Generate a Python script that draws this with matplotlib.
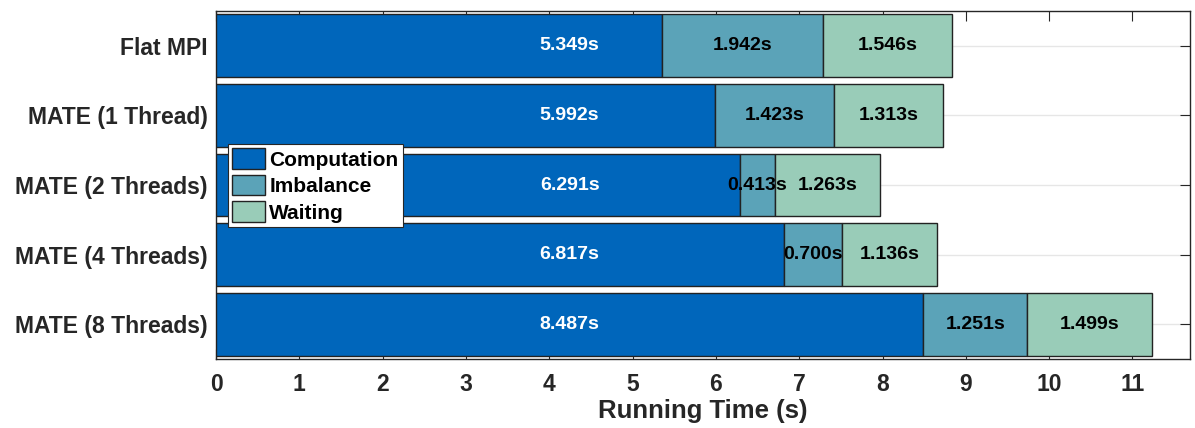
import numpy as np
import matplotlib
matplotlib.use('Agg')
import matplotlib.pyplot as plt

configs = ['Flat MPI', 'MATE (1 Thread)', 'MATE (2 Threads)', 'MATE (4 Threads)', 'MATE (8 Threads)']
computation = [5.349, 5.992, 6.291, 6.817, 8.487]
imbalance = [1.942, 1.423, 0.413, 0.700, 1.251]
waiting = [1.546, 1.313, 1.263, 1.136, 1.499]
x_ticks = list(range(0, 12))

plt.rcParams['font.family'] = ['Liberation Sans', 'DejaVu Sans']
plt.rcParams['font.weight'] = 'bold'

fig = plt.figure(figsize=(11.95, 4.28), dpi=100)
ax = fig.add_axes([0.1808, 0.1612, 0.815, 0.8131])

y = np.arange(1, len(configs) + 1)
h = 0.9
colors = ['#0066BB', '#5BA3B8', '#99CCB8']
names = ['Computation', 'Imbalance', 'Waiting']
left = np.zeros(len(configs))
for vals, col, name in zip([computation, imbalance, waiting], colors, names):
    vals = np.array(vals)
    ax.barh(y, vals, height=h, left=left, color=col, edgecolor='#222222',
            linewidth=1.0, label=name, zorder=3)
    for yi, l, v in zip(y, left, vals):
        if name == 'Computation':
            # computation labels all sit at the same x in the original
            ax.text(max(computation) / 2, yi, f'{v:.3f}s', ha='center', va='center',
                    color='white', fontsize=14, fontweight='bold', zorder=4)
        else:
            ax.text(l + v / 2, yi, f'{v:.3f}s', ha='center', va='center',
                    color='black', fontsize=14, fontweight='bold', zorder=4)
    left = left + vals

ax.set_xlim(0, 11.69)
ax.set_ylim(5.5, 0.5)
ax.set_yticks(y)
ax.set_yticklabels(configs)
ax.set_xticks(x_ticks)
ax.grid(axis='y', color='#e6e6e6', linewidth=1.0, zorder=0)
ax.set_axisbelow(True)
ax.tick_params(direction='in', top=True, right=True, length=7, width=0.8,
               colors='#262626', labelsize=16.5)
ax.tick_params(axis='x', pad=10)
ax.tick_params(axis='y', pad=6)
for lab in ax.get_xticklabels() + ax.get_yticklabels():
    lab.set_fontweight('bold')
for sp in ax.spines.values():
    sp.set_color('#262626')
    sp.set_linewidth(1.0)
ax.set_xlabel('Running Time (s)', fontsize=18.5, fontweight='bold', color='#262626', labelpad=2)

leg = ax.legend(loc='upper left', bbox_to_anchor=(0.012, 0.618), borderaxespad=0,
                prop={'weight': 'bold', 'size': 15}, frameon=True, fancybox=False,
                framealpha=1, edgecolor='#262626', handlelength=1.6, handleheight=1.15,
                handletextpad=0.2, labelspacing=0.25, borderpad=0.2)
leg.get_frame().set_linewidth(0.8)
leg.set_zorder(5)

fig.savefig('out.png', dpi=100)
